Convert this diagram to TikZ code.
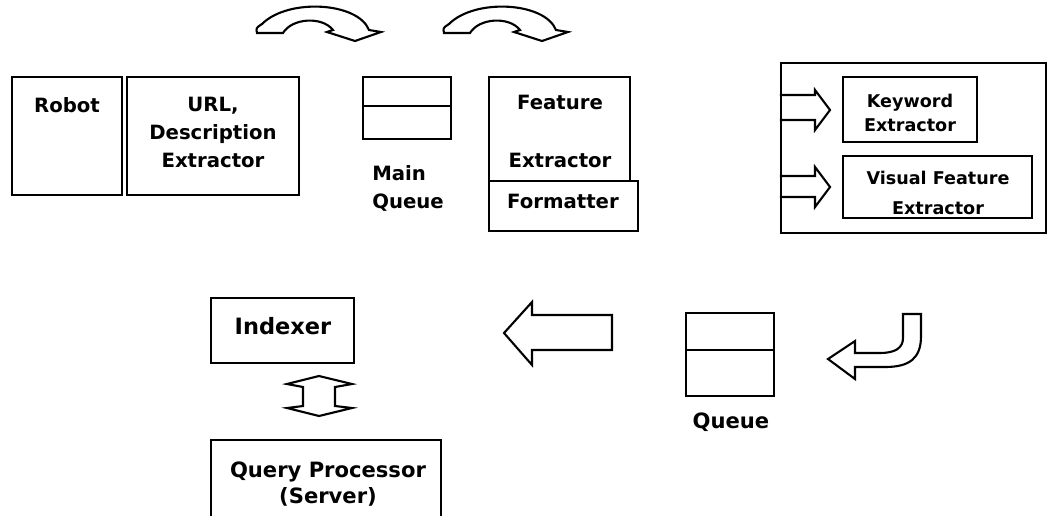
\documentclass[tikz,border=0pt]{standalone}
\usepackage{fontspec}
\setsansfont{DejaVu Sans}
\usetikzlibrary{positioning,fit}
% curved block arrow over the top row, shifted by #1
\newcommand{\bentarrow}[1]{%
  \draw[blk,shift={(#1,0)}] (257,33) -- (283,33) .. controls (292,18) and (322,16) .. (333,30)
    -- (327,32) -- (355,41) -- (381,32) -- (369,30)
    .. controls (358,2) and (288,-2) .. (262,24) .. controls (256,28) .. (257,33) -- cycle;}

\begin{document}
\begin{tikzpicture}[
    x=0.025cm,y=-0.025cm,
    box/.style={draw,line width=1.5pt,inner sep=0pt},
    blk/.style={draw,line width=1.5pt,line join=miter},
    lbl/.style={font=\sffamily\bfseries\fontsize{14}{20}\selectfont,align=center,inner sep=0pt,anchor=north},
    sml/.style={lbl,font=\sffamily\bfseries\fontsize{12.5}{17}\selectfont},
    big/.style={lbl,font=\sffamily\bfseries\fontsize{15}{18}\selectfont}
]
\clip (0,0) rectangle (1049,515);

% top row
\node[box,fit={(12,77) (122,195)}] (robot) {};
\node[lbl] (robottxt) at (67,97) {Robot};
\node[box,fit={(127,77) (299,195)}] (url) {};
\node[lbl] (urltxt) at (213,97) {URL,\\Description\\Extractor};

\node[box,fit={(363,77) (451,139)}] (mq) {};
\draw[line width=1.5pt] (mq.west |- 0,106) -- (mq.east |- 0,106);
\node[lbl,align=left,anchor=north west] (mqtxt) at (372,165) {Main\\Queue};

\node[box,fit={(489,77) (630,181)}] (feat) {};
\node[box,fit={(489,181) (638,231)}] (fmt) {};
\node[lbl] (feattxt) at (560,95) {Feature\\[21pt]Extractor};
\node[lbl] (fmttxt) at (563,194) {Formatter};

\bentarrow{0}
\bentarrow{187}

% extractors
\node[box,fit={(781,63) (1046,233)}] (ext) {};
\node[box,fit={(843,77) (977,142)}] (kw) {};
\node[box,fit={(843,156) (1032,218)}] (vis) {};
\node[sml] (kwtxt) at (910,94) {Keyword\\Extractor};
\node[sml] (vistxt) at (938,171) {Visual Feature\\[4pt]Extractor};
\draw[blk] (ext.west |- 0,95) -- (815,95) -- (815,90) -- (830,110) -- (815,130) -- (815,120) -- (ext.west |- 0,120);
\draw[blk] (ext.west |- 0,176) -- (815,176) -- (815,167) -- (830,187) -- (815,207) -- (815,197) -- (ext.west |- 0,197);

% bottom row
\node[box,fit={(211,298) (354,363)}] (idx) {};
\node[big,font=\sffamily\bfseries\fontsize{16}{18}\selectfont] (idxtxt) at (283,317) {Indexer};
\node[box,fit={(211,440) (441,530)}] (qp) {};
\node[big] (qptxt) at (328,462) {Query Processor\\(Server)};
\draw[blk] (319,376) -- (352,384) -- (335,387) -- (335,406) -- (352,408) -- (319,416)
  -- (287,408) -- (303,406) -- (303,387) -- (287,384) -- cycle;

\node[box,fit={(686,313) (774,396)}] (q) {};
\draw[line width=1.5pt] (q.west |- 0,350) -- (q.east |- 0,350);
\node[big] (qtxt) at (731,413) {Queue};

\draw[blk] (504,333) -- (532,302) -- (532,315) -- (612,315) -- (612,350) -- (532,350) -- (532,365) -- cycle;
\draw[blk] (855,341) -- (828,359) -- (855,379) -- (855,367) -- (885,367)
  .. controls (910,367) and (921,358) .. (921,336) -- (921,314) -- (903,314) -- (903,338)
  .. controls (903,348) and (895,353) .. (880,353) -- (855,353) -- cycle;
\end{tikzpicture}
\end{document}
